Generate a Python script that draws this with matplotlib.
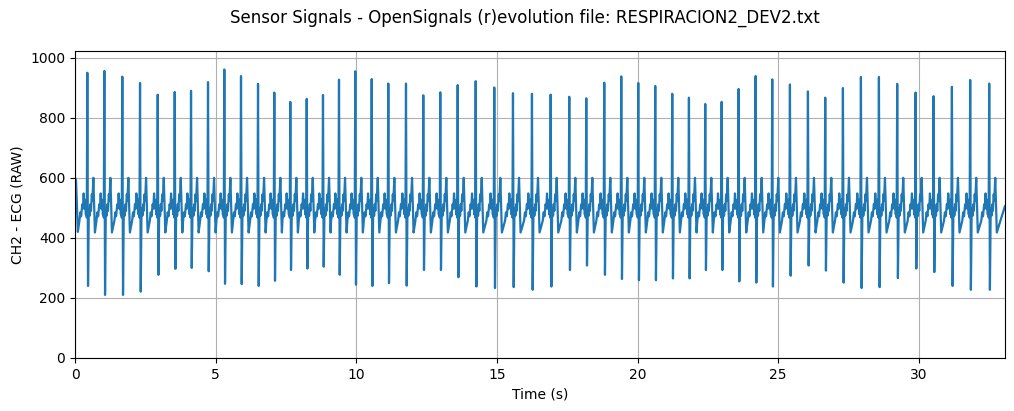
import numpy as np
import matplotlib
matplotlib.use("Agg")
import matplotlib.pyplot as plt

# R-peak times (s)
r_times = [0.437, 1.042, 1.681, 2.311, 2.940, 3.544, 4.124, 4.728, 5.308, 5.901,
           6.506, 7.085, 7.654, 8.237, 8.816, 9.385, 9.964, 10.548, 11.138, 11.767,
           12.382, 12.986, 13.605, 14.245, 14.906, 15.571, 16.246, 16.911, 17.572, 18.177,
           18.816, 19.421, 20.025, 20.629, 21.234, 21.827, 22.407, 22.990, 23.594, 24.198,
           24.789, 25.418, 26.058, 26.673, 27.302, 27.942, 28.582, 29.232, 29.886, 30.526,
           31.177, 31.827, 32.503]

# R-peak heights (RAW)
r_peaks = [950, 956, 937, 916, 877, 886, 890, 919, 961, 939,
           913, 884, 853, 863, 876, 927, 955, 929, 914, 914,
           875, 885, 909, 922, 901, 882, 880, 877, 870, 865,
           917, 938, 916, 906, 880, 867, 846, 853, 896, 939,
           928, 911, 888, 867, 899, 936, 936, 913, 884, 872,
           903, 926, 914]

# S-wave troughs (RAW)
s_troughs = [240, 210, 210, 221, 277, 297, 300, 289, 247, 246,
             240, 257, 293, 298, 304, 277, 244, 240, 249, 241,
             293, 293, 269, 238, 233, 236, 227, 238, 293, 308,
             277, 263, 259, 259, 265, 265, 293, 293, 255, 251,
             238, 274, 308, 291, 251, 233, 236, 266, 298, 286,
             240, 227, 227]

# shape after an R peak: (seconds after R, value)
post_r_dt = [0.05, 0.07, 0.085, 0.11, 0.13, 0.16, 0.18, 0.215, 0.27]
post_r_val = [468, 498, 474, 512, 490, 545, 524, 600, 418]
# shape before an R peak: (seconds before R, value)
pre_r_dt = [-0.28, -0.25, -0.22, -0.18, -0.155, -0.13, -0.10, -0.075, -0.05, -0.035, -0.02]
pre_r_val = [458, 485, 472, 512, 498, 548, 498, 518, 478, 528, 468]

# first and last samples of the recording
start_t = [0.0, 0.035, 0.1]
start_val = [600, 592, 420]
end_t = [33.06]
end_val = [505]

t = list(start_t)
y = list(start_val)
for tr, rp, st in zip(r_times, r_peaks, s_troughs):
    t += [tr + d for d in pre_r_dt]
    y += pre_r_val
    t += [tr, tr + 0.025]
    y += [rp, st]
    t += [tr + d for d in post_r_dt]
    y += post_r_val
t += end_t
y += end_val

fig = plt.figure(figsize=(10.14, 4.11), dpi=100)
ax = fig.add_axes([0.074, 0.129, 0.917, 0.748])
ax.plot(t, y, color="#1f77b4", linewidth=1.6)
ax.set_xlim(0, t[-1])
ax.set_ylim(0, 1024)
ax.set_xlabel("Time (s)")
ax.set_ylabel("CH2 - ECG (RAW)")
ax.grid(True)
fig.suptitle("Sensor Signals - OpenSignals (r)evolution file: RESPIRACION2_DEV2.txt",
             x=0.518, y=0.956, va="center", fontsize=12)
fig.savefig("out.png", dpi=100)
